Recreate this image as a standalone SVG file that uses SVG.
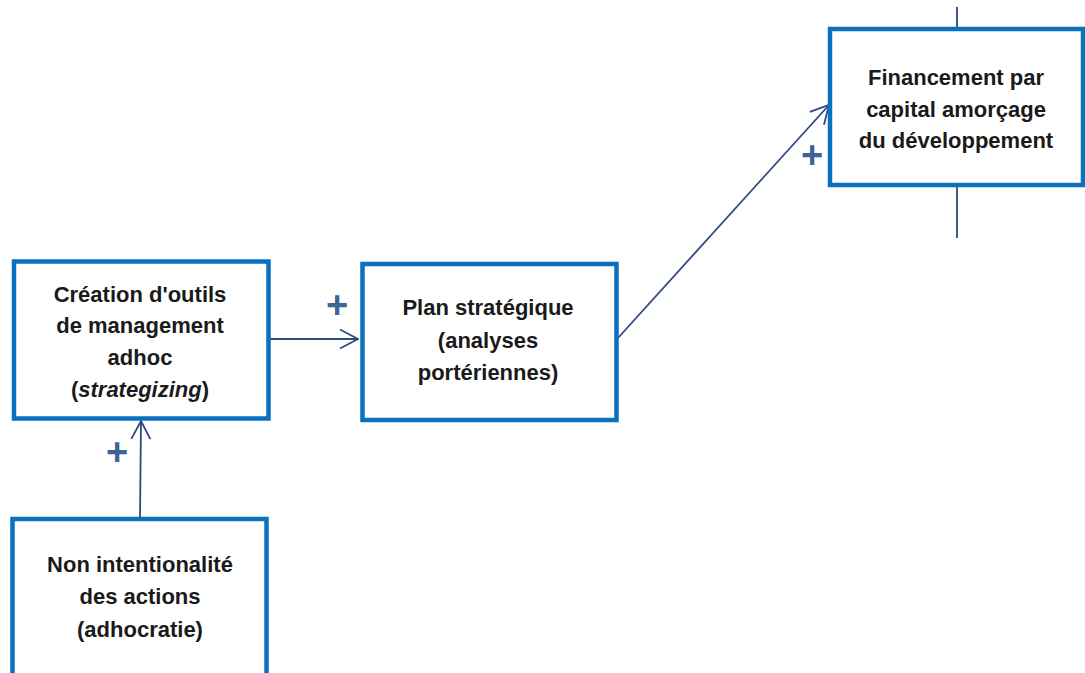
<svg xmlns="http://www.w3.org/2000/svg" width="1085" height="673" viewBox="0 0 1085 673">
<style>
.box{fill:#fff;stroke:#0a70c0;stroke-width:4.5}
.t{font-family:"Liberation Sans",Arial,sans-serif;font-weight:bold;font-size:22px;fill:#1a1a1a;text-anchor:middle}
.c{stroke:#2e4a7e;stroke-width:1.8;fill:none}
.p{font-family:"Liberation Sans",Arial,sans-serif;font-weight:bold;font-size:38px;fill:#3d6496;text-anchor:middle}
</style>
<defs>
<marker id="ah" viewBox="0 0 20 22" refX="19" refY="11" markerWidth="20" markerHeight="22" markerUnits="userSpaceOnUse" orient="auto">
<path d="M1,1.5 L19,11 L1,20.5" fill="none" stroke="#2e4a7e" stroke-width="1.8"/>
</marker>
</defs>
<g id="connectors">
<line class="c" x1="957" y1="7" x2="957" y2="29"/>
<line class="c" x1="957" y1="185" x2="957" y2="238"/>
<line class="c" x1="270" y1="339" x2="358" y2="339" marker-end="url(#ah)"/>
<line class="c" x1="140" y1="518" x2="141" y2="421" marker-end="url(#ah)"/>
<line class="c" x1="618" y1="338" x2="829" y2="105" marker-end="url(#ah)"/>
<text class="p" x="337" y="318">+</text>
<text class="p" x="117" y="465">+</text>
<text class="p" x="812" y="168">+</text>
</g>
<g id="creation">
<rect class="box" x="14" y="261.5" width="254.5" height="157"/>
<text class="t" x="140" y="302">Création d'outils</text>
<text class="t" x="140" y="333">de management</text>
<text class="t" x="140" y="365">adhoc</text>
<text class="t" x="140" y="397">(<tspan font-style="italic">strategizing</tspan>)</text>
</g>
<g id="non-intentionalite">
<rect class="box" x="12.5" y="519" width="254" height="170"/>
<text class="t" x="140" y="572">Non intentionalité</text>
<text class="t" x="140" y="604">des actions</text>
<text class="t" x="140" y="637">(adhocratie)</text>
</g>
<g id="plan">
<rect class="box" x="362.5" y="264" width="254" height="156"/>
<text class="t" x="488" y="315">Plan stratégique</text>
<text class="t" x="488" y="348">(analyses</text>
<text class="t" x="488" y="380">portériennes)</text>
</g>
<g id="financement">
<rect class="box" x="830" y="29" width="253" height="156"/>
<text class="t" x="956" y="85">Financement par</text>
<text class="t" x="956" y="117">capital amorçage</text>
<text class="t" x="956" y="148">du développement</text>
</g>
</svg>
